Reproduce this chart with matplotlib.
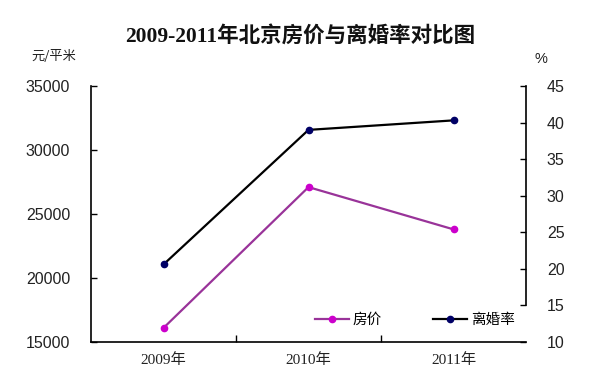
import matplotlib
matplotlib.use("Agg")
import matplotlib.pyplot as plt
from matplotlib.lines import Line2D

plt.rcParams['font.family'] = ['Noto Sans CJK SC', 'DejaVu Sans']

years = ["2009年", "2010年", "2011年"]
price = [16100, 27100, 23800]
divorce = [20.6, 39.0, 40.3]
left_ticks = [15000, 20000, 25000, 30000, 35000]
right_ticks = [10, 15, 20, 25, 30, 35, 40, 45]

SERIF = ["Liberation Serif", "Noto Sans CJK SC"]
SANS = ["Liberation Sans", "DejaVu Sans"]

W, H = 602, 384
fig = plt.figure(figsize=(W / 100, H / 100), dpi=100)
ax = fig.add_axes([91 / W, 1 - 342 / H, (526 - 91) / W, (342 - 86) / H])
ax2 = ax.twinx()

x = list(range(len(years)))
ax.plot(x, price, color="#993399", lw=1.6, marker="o", ms=4.5,
        mfc="#CC00CC", mec="#CC00CC", zorder=3)
ax2.plot(x, divorce, color="#000000", lw=1.6, marker="o", ms=4.5,
         mfc="#000066", mec="#000066", zorder=3)

ax.set_xlim(-0.5, len(years) - 0.5)
ax.set_ylim(15000, 35000)
ax2.set_ylim(10, 45)
ax.set_yticks(left_ticks)
ax2.set_yticks(right_ticks)
ax.set_yticklabels([str(t) for t in left_ticks], fontsize=11.5, color="#222222", family=SANS)
ax2.set_yticklabels([str(t) for t in right_ticks], fontsize=11.5, color="#222222", family=SANS)

ax.set_xticks(x)
ax.set_xticklabels(years, fontsize=11, color="#222222", family=SERIF)
ax.tick_params(axis="x", length=0, pad=8)
ax.set_xticks([0.5, 1.5], minor=True)
ax.tick_params(axis="x", which="minor", direction="in", length=5, width=1)
ax.tick_params(axis="y", direction="in", length=4, width=1, pad=15)
ax2.tick_params(axis="y", direction="in", length=4, width=1, pad=15)

for a in (ax, ax2):
    a.spines["top"].set_visible(False)
    for s in a.spines.values():
        s.set_linewidth(1.2)
        s.set_color("#000000")
ax2.spines["left"].set_visible(False)
ax2.spines["bottom"].set_visible(False)
ax.spines["right"].set_visible(False)
ax2.spines["right"].set_bounds(15, 45)

fig.text(300 / W, 1 - 37 / H, "2009-2011年北京房价与离婚率对比图", ha="center", va="center",
         fontsize=15.5, fontweight="bold", color="#111111", family=SERIF)
fig.text(54 / W, 1 - 57 / H, "元/平米", ha="center", va="center", fontsize=9.5, color="#222222")
fig.text(541 / W, 1 - 59 / H, "%", ha="center", va="center", fontsize=10.5, color="#222222",
         family=SANS)

handles = [Line2D([], [], color="#993399", lw=1.6, marker="o", ms=4.5, mfc="#CC00CC", mec="#CC00CC"),
           Line2D([], [], color="#000000", lw=1.6, marker="o", ms=4.5, mfc="#000066", mec="#000066")]
leg = ax.legend(handles, ["房价", "离婚率"], ncol=2, frameon=False, fontsize=10.5,
                loc="center", bbox_to_anchor=((415 - 91) / (526 - 91), (342 - 320) / (342 - 86)),
                handlelength=2.3, handletextpad=0.3, columnspacing=3.5)

fig.savefig("out.png", dpi=100, facecolor="white")
